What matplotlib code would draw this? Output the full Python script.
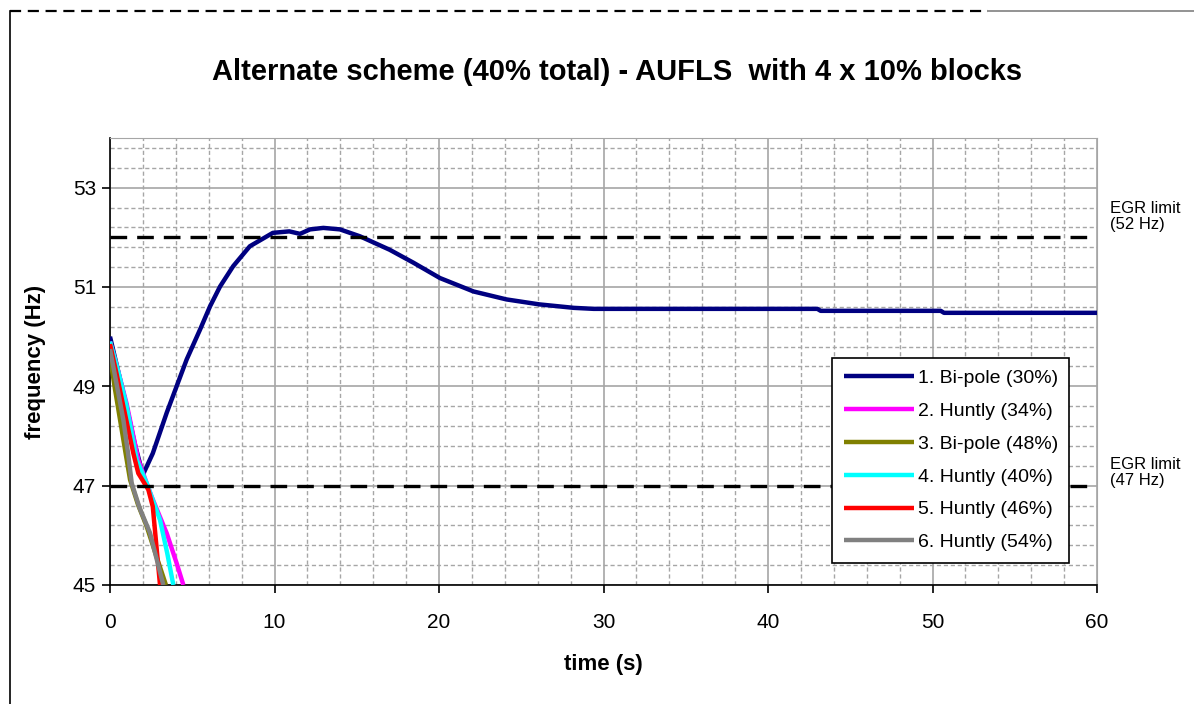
import matplotlib
matplotlib.use("Agg")
import matplotlib.pyplot as plt
from matplotlib.lines import Line2D
from matplotlib.ticker import MultipleLocator, FixedLocator

plt.rcParams['font.family'] = ['Liberation Sans', 'DejaVu Sans']

title = "Alternate scheme (40% total) - AUFLS  with 4 x 10% blocks"
labels = ["1. Bi-pole (30%)", "2. Huntly (34%)", "3. Bi-pole (48%)",
          "4. Huntly (40%)", "5. Huntly (46%)", "6. Huntly (54%)"]
colors = ["#000080", "#ff00ff", "#808000", "#00ffff", "#ff0000", "#808080"]

# frequency traces, time in s / frequency in Hz
t_bipole30 = [0, 0.5, 1.0, 1.5, 2.0, 2.6, 3.45, 4.66, 5.47, 6.08, 6.69, 7.49, 8.5, 9.9,
              10.9, 11.55, 12.16, 12.97, 13.98, 15.2, 17.0, 18.44, 20.06, 22.1, 24.1,
              26.1, 28.2, 29.4, 43.0, 43.2, 50.5, 50.7, 60]
f_bipole30 = [50.0, 49.3, 48.6, 47.85, 47.22, 47.65, 48.47, 49.54, 50.14, 50.61, 51.01,
              51.42, 51.82, 52.09, 52.12, 52.07, 52.16, 52.19, 52.16, 52.02, 51.75, 51.49,
              51.18, 50.91, 50.75, 50.65, 50.58, 50.56, 50.56, 50.52, 50.52, 50.48, 50.48]

t_huntly34 = [0, 0.5, 1.01, 1.72, 2.23, 2.53, 3.45, 4.05, 4.46]
f_huntly34 = [49.9, 49.3, 48.65, 47.52, 47.05, 46.78, 46.04, 45.44, 45.0]

t_bipole48 = [0, 0.3, 0.61, 0.95, 1.22, 1.7, 2.23, 2.8, 3.4]
f_bipole48 = [49.6, 48.95, 48.33, 47.65, 47.12, 46.62, 46.18, 45.6, 45.0]

t_huntly40 = [0, 0.5, 1.01, 1.62, 2.23, 3.04, 3.48, 3.85]
f_huntly40 = [49.9, 49.3, 48.6, 47.52, 47.05, 46.31, 45.64, 45.0]

t_huntly46 = [0, 0.4, 0.81, 1.42, 1.72, 2.33, 2.6, 3.04]
f_huntly46 = [49.85, 49.25, 48.6, 47.65, 47.25, 46.92, 46.58, 45.0]

t_huntly54 = [0, 0.4, 0.81, 1.1, 1.32, 1.8, 2.43, 3.24]
f_huntly54 = [49.75, 49.05, 48.33, 47.65, 47.05, 46.55, 46.05, 45.0]

series = [(t_bipole30, f_bipole30), (t_huntly34, f_huntly34), (t_bipole48, f_bipole48),
          (t_huntly40, f_huntly40), (t_huntly46, f_huntly46), (t_huntly54, f_huntly54)]

egr_limits = [52, 47]
egr_texts = ["EGR limit\n(52 Hz)", "EGR limit\n(47 Hz)"]
egr_text_tops = [52.74, 47.58]

fig = plt.figure(figsize=(11.94, 7.04), dpi=100)
ax = fig.add_axes([110 / 1194, 119 / 704, 987 / 1194, 447 / 704])

# major / minor grid
ax.set_xlim(0, 60)
ax.set_ylim(45, 54)
ax.xaxis.set_major_locator(MultipleLocator(10))
ax.xaxis.set_minor_locator(MultipleLocator(2))
ax.set_yticks([45, 47, 49, 51, 53])
ax.yaxis.set_minor_locator(FixedLocator([45 + 0.4 * k for k in range(23)]))
ax.grid(which='major', color='#a6a6a6', linewidth=1.2, linestyle='-')
ax.grid(which='minor', color='#a6a6a6', linewidth=1.0, linestyle=(0, (3, 2)))
ax.set_axisbelow(True)

for (t, f), c, lab in zip(series, colors, labels):
    ax.plot(t, f, color=c, linewidth=3.2, label=lab, solid_capstyle='butt', zorder=3)

for lim in egr_limits:
    ax.axhline(lim, color='black', linewidth=2.4, linestyle=(0, (5, 3)), zorder=4)

for top, txt in zip(egr_text_tops, egr_texts):
    ax.text(1.013, (top - 45) / 9, txt, transform=ax.transAxes, fontsize=12,
            va='top', ha='left', linespacing=1.1)

for side in ['top', 'right']:
    ax.spines[side].set_color('#a6a6a6')
for side in ['left', 'bottom']:
    ax.spines[side].set_color('black')
    ax.spines[side].set_linewidth(1.2)

ax.tick_params(which='major', direction='out', length=6, width=1.2, labelsize=15, pad=4)
ax.tick_params(which='minor', length=0)
ax.tick_params(axis='x', pad=14)

ax.set_xlabel("time (s)", fontsize=16, fontweight='bold', labelpad=16)
ax.set_ylabel("frequency (Hz)", fontsize=16, fontweight='bold', labelpad=19)
fig.text(617 / 1194, 1 - 72 / 704, title, fontsize=21, fontweight='bold',
         ha='center', va='center')

leg = ax.legend(loc='upper left', bbox_to_anchor=(722 / 987, (585 - 358) / 447),
                fontsize=14, frameon=True, fancybox=False, edgecolor='black',
                framealpha=1, handlelength=3.6, handletextpad=0.2,
                labelspacing=0.78, borderpad=0.6, borderaxespad=0)
leg.get_frame().set_linewidth(1.2)

# outer frame of the chart area
fig.add_artist(Line2D([10 / 1194, 10 / 1194], [0, 1 - 11 / 704], color='black', linewidth=1.2))
fig.add_artist(Line2D([10 / 1194, 988 / 1194], [1 - 11 / 704, 1 - 11 / 704], color='black',
                      linewidth=1.6, linestyle=(0, (5, 3))))
fig.add_artist(Line2D([988 / 1194, 1], [1 - 11 / 704, 1 - 11 / 704], color='#808080',
                      linewidth=1.2))

fig.savefig("out.png", dpi=100)
